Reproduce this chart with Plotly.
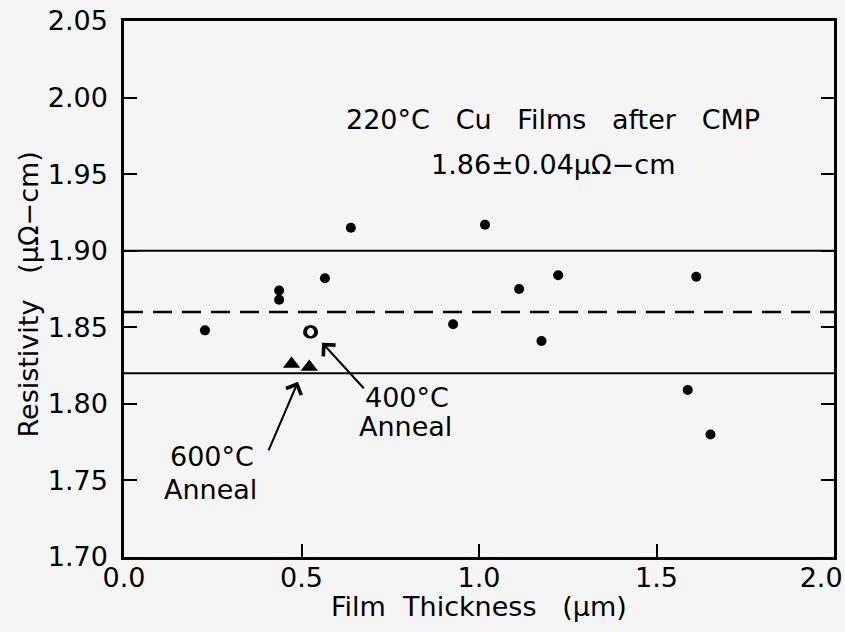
import plotly.graph_objects as go

# ---- data ----
cmp_thickness = [0.228, 0.437, 0.437, 0.566, 0.639, 0.927, 1.017, 1.113, 1.176, 1.223, 1.588, 1.612, 1.652]
cmp_resistivity = [1.848, 1.874, 1.868, 1.882, 1.915, 1.852, 1.917, 1.875, 1.841, 1.884, 1.809, 1.883, 1.780]

anneal400_thickness = [0.523, 0.528]
anneal400_resistivity = [1.847, 1.847]

anneal600_thickness = [0.472, 0.522]
anneal600_resistivity = [1.826, 1.824]

mean_res = 1.86
band_upper = 1.90
band_lower = 1.82
x_span = [0.0, 2.0]

x_ticks = [0.0, 0.5, 1.0, 1.5, 2.0]
x_ticktext = ["0.0", "0.5", "1.0", "1.5", "2.0\u00a0\u00a0\u00a0"]
y_ticks = [1.70, 1.75, 1.80, 1.85, 1.90, 1.95, 2.00, 2.05]

FONT = "DejaVu Sans"
BG = "#f5f5f5"

fig = go.Figure()

# reference lines
fig.add_trace(go.Scatter(x=x_span, y=[band_upper, band_upper], mode="lines",
                         line=dict(color="black", width=2), showlegend=False, hoverinfo="skip"))
fig.add_trace(go.Scatter(x=x_span, y=[band_lower, band_lower], mode="lines",
                         line=dict(color="black", width=2), showlegend=False, hoverinfo="skip"))
fig.add_trace(go.Scatter(x=x_span, y=[mean_res, mean_res], mode="lines",
                         line=dict(color="black", width=2.5, dash="19px,10px"),
                         showlegend=False, hoverinfo="skip"))

# data
fig.add_trace(go.Scatter(x=cmp_thickness, y=cmp_resistivity, mode="markers",
                         marker=dict(symbol="circle", size=10, color="black"),
                         showlegend=False))
fig.add_trace(go.Scatter(x=anneal400_thickness, y=anneal400_resistivity, mode="markers",
                         marker=dict(symbol="circle-open", size=11, color="black",
                                     line=dict(width=2.2, color="black")),
                         showlegend=False))
fig.add_trace(go.Scatter(x=anneal600_thickness, y=anneal600_resistivity, mode="markers",
                         marker=dict(symbol="triangle-up", size=15, color="black"),
                         showlegend=False))

nb = "\u00a0"
tf = dict(family=FONT, size=27, color="black")


def label(x, y, text, **kw):
    return dict(x=x, y=y, xref="x", yref="y", text=text, showarrow=False, font=tf,
                xanchor="center", yanchor="middle", **kw)


annotations = [
    label(1.208, 1.986, f"220°C{nb*3}Cu{nb*3}Films{nb*3}after{nb*3}CMP"),
    label(1.208, 1.956, "1.86±0.04μΩ−cm"),
    label(0.248, 1.7654, "600°C"),
    label(0.245, 1.7444, "Anneal"),
    label(0.798, 1.8039, "400°C"),
    label(0.794, 1.785, "Anneal"),
    # arrows
    dict(x=0.490, y=1.8144, xref="x", yref="y", text="", showarrow=True,
         ax=-30, ay=70, arrowhead=4, arrowsize=1.6, arrowwidth=2, arrowcolor="black"),
    dict(x=0.558, y=1.8399, xref="x", yref="y", text="", showarrow=True,
         ax=43, ay=47, arrowhead=4, arrowsize=1.6, arrowwidth=2, arrowcolor="black"),
    # axis titles
    dict(x=0.5, y=-0.093, xref="paper", yref="paper",
         text=f"Film{nb*2}Thickness{nb*3}(μm)", showarrow=False, font=tf,
         xanchor="center", yanchor="middle"),
    dict(x=-0.135, y=0.49, xref="paper", yref="paper",
         text=f"Resistivity{nb*3}(μΩ−cm)", showarrow=False, font=tf, textangle=-90,
         xanchor="center", yanchor="middle"),
]

fig.update_layout(
    width=845, height=632,
    margin=dict(l=124, r=11, t=21, b=75),
    paper_bgcolor=BG, plot_bgcolor=BG,
    font=dict(family=FONT, size=27, color="black"),
    annotations=annotations,
    showlegend=False,
)

fig.update_xaxes(
    range=[0, 2], tickvals=x_ticks, ticktext=x_ticktext,
    ticks="inside", ticklen=13, tickwidth=2, tickcolor="black",
    showline=True, linewidth=2.5, linecolor="black", mirror=True,
    showgrid=False, zeroline=False, automargin=False,
    ticklabeloverflow="allow", ticklabelstandoff=-5,
    tickfont=dict(family=FONT, size=27),
)
fig.update_yaxes(
    range=[1.70, 2.05], tickvals=y_ticks, tickformat=".2f",
    ticks="inside", ticklen=13, tickwidth=2, tickcolor="black",
    showline=True, linewidth=2.5, linecolor="black", mirror="ticks",
    showgrid=False, zeroline=False, automargin=False,
    ticklabeloverflow="allow", ticklabelstandoff=8,
    tickfont=dict(family=FONT, size=27),
)

fig.write_html(
    "out.html",
    config={"displayModeBar": False},
    post_script="document.body.style.margin='0';document.body.style.overflow='hidden';"
                "document.body.style.background='" + BG + "';",
)
